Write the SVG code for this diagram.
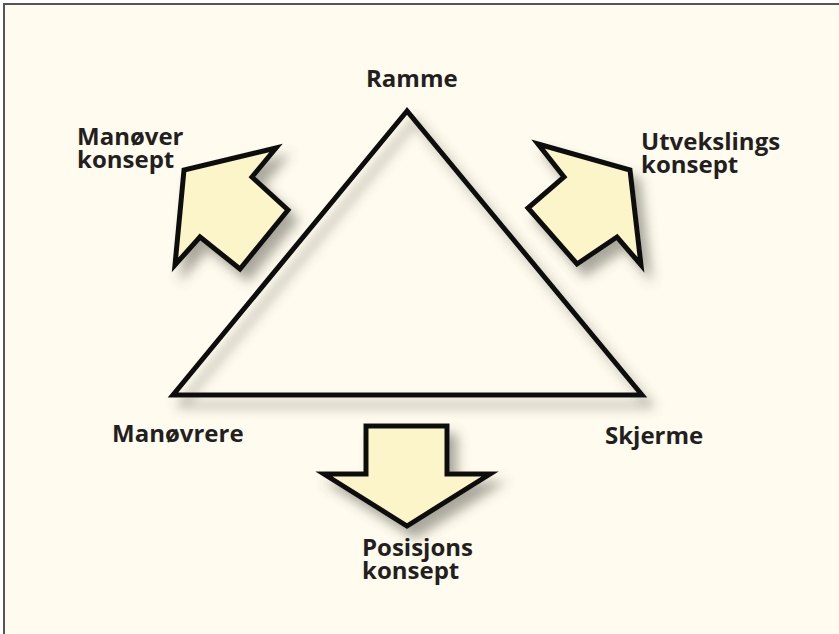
<svg xmlns="http://www.w3.org/2000/svg" width="839" height="634" viewBox="0 0 839 634">
<defs>
<filter id="shadow" x="-30%" y="-30%" width="160%" height="160%">
<feGaussianBlur in="SourceAlpha" stdDeviation="6"/>
<feOffset dx="8" dy="10" result="b"/>
<feFlood flood-color="#55554a" flood-opacity="0.5"/>
<feComposite in2="b" operator="in" result="s"/>
<feMerge><feMergeNode in="s"/><feMergeNode in="SourceGraphic"/></feMerge>
</filter>
<style>
.bg{fill:#FFFBEE;stroke:#555;stroke-width:2}
.tri{fill:none;stroke:#111;stroke-width:5;stroke-linejoin:miter}
.arr{fill:#FCF5C9;stroke:#111;stroke-width:5;stroke-linejoin:miter}
.lbl{font-family:"Open Sans","Liberation Sans",sans-serif;font-weight:bold;font-size:24px;fill:#231F20}
</style>
</defs>
<rect class="bg" x="4" y="4" width="850" height="650"/>
<g id="triangle" filter="url(#shadow)">
<polygon class="tri" points="407,111 173,395 642,395"/>
</g>
<g id="connectors">
<g id="arrow-manover" filter="url(#shadow)">
<polygon class="arr" points="276,148 184,170 175,265 200,237 240,269 288,210 252,177"/>
</g>
<g id="arrow-utveksling" filter="url(#shadow)">
<polygon class="arr" points="538,144 630,170 641,265 617,237 577,264 528,208 564,177"/>
</g>
<g id="arrow-posisjon" filter="url(#shadow)">
<polygon class="arr" points="366,426 447,426 447,474 490,474 407,526 324,474 366,474"/>
</g>
</g>
<g id="node-ramme"><text class="lbl" x="366" y="87">Ramme</text></g>
<g id="node-manover"><text class="lbl" x="77" y="145">Manøver</text><text class="lbl" x="77" y="168">konsept</text></g>
<g id="node-utveksling"><text class="lbl" x="641" y="150">Utvekslings</text><text class="lbl" x="641" y="173">konsept</text></g>
<g id="node-manovrere"><text class="lbl" x="112" y="442">Manøvrere</text></g>
<g id="node-skjerme"><text class="lbl" x="605" y="444">Skjerme</text></g>
<g id="node-posisjon"><text class="lbl" x="362" y="556">Posisjons</text><text class="lbl" x="362" y="579">konsept</text></g>
</svg>
